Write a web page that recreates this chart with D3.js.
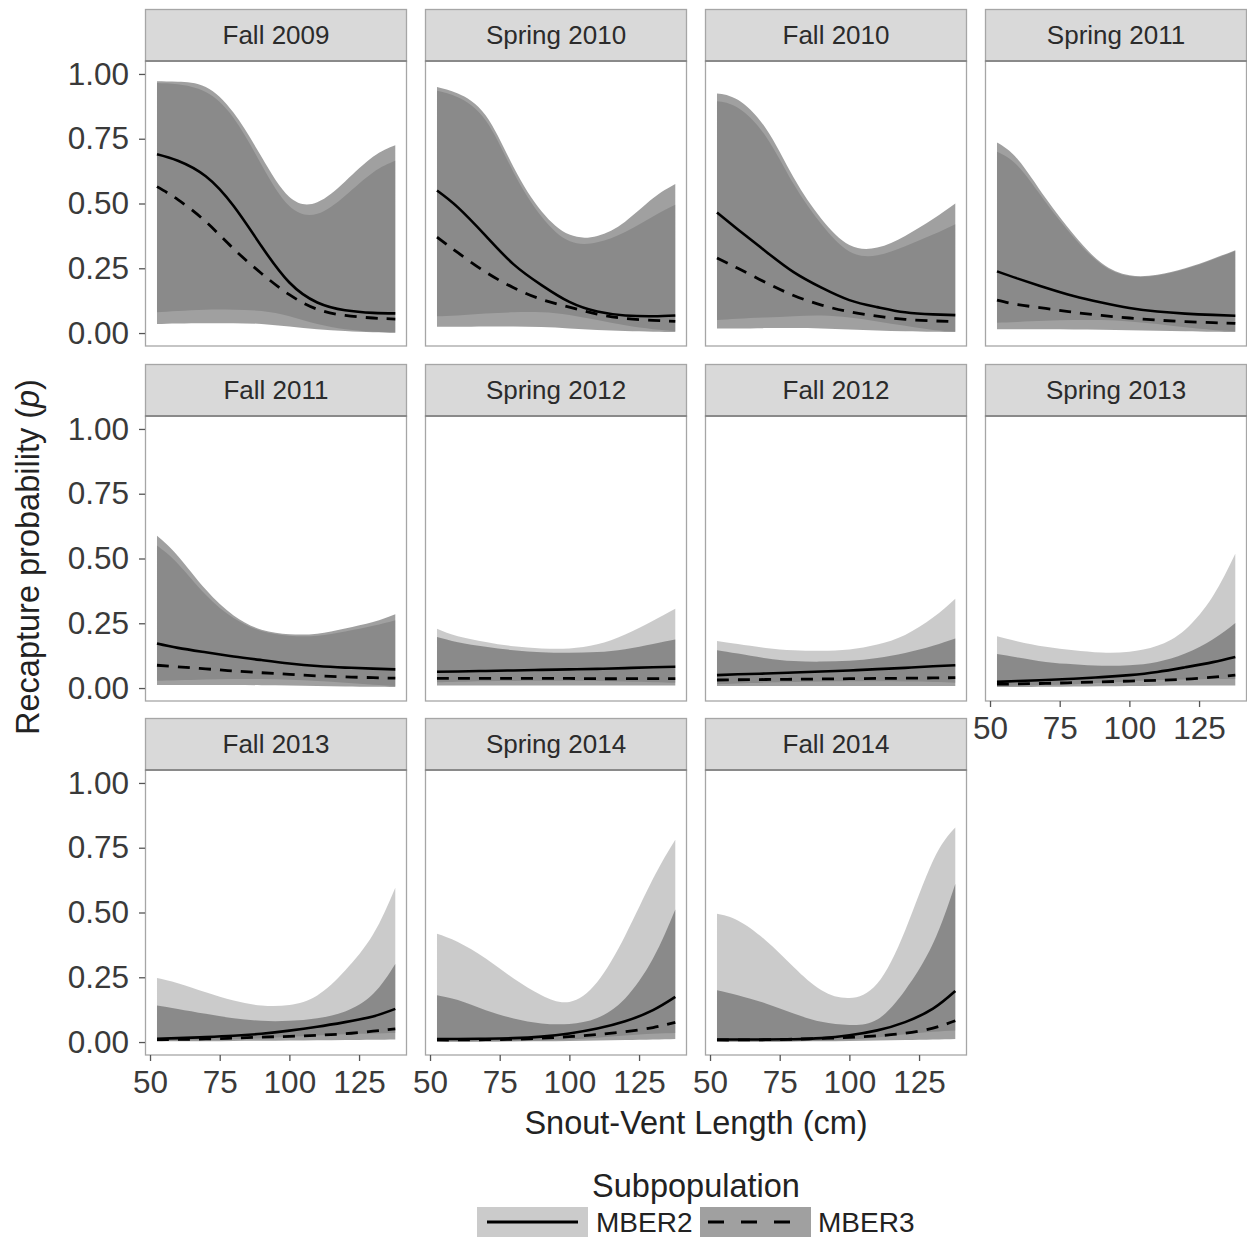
<!DOCTYPE html>
<html><head><meta charset="utf-8">
<script src="https://cdn.jsdelivr.net/npm/d3@7"></script>
<style>body{margin:0;background:#fff}svg{display:block}text{font-family:"Liberation Sans",Arial,sans-serif}</style>
</head><body>
<svg id="chart" width="1247" height="1237"></svg>
<script>
const seasons = ["Fall 2009","Spring 2010","Fall 2010","Spring 2011","Fall 2011","Spring 2012","Fall 2012","Spring 2013","Fall 2013","Spring 2014","Fall 2014"];
const svlGrid = [52.5, 60, 70, 80, 90, 100, 110, 120, 130, 138];
const xTicks = [50, 75, 100, 125];
const yTicks = [0, 0.25, 0.5, 0.75, 1];
const subpops = ["MBER2", "MBER3"];

const mber2Mean = [
 [0.69,0.665,0.605,0.49,0.335,0.195,0.118,0.088,0.078,0.076],
 [0.55,0.485,0.375,0.265,0.185,0.12,0.083,0.068,0.065,0.068],
 [0.465,0.40,0.315,0.235,0.175,0.127,0.10,0.08,0.072,0.069],
 [0.238,0.21,0.175,0.143,0.118,0.097,0.083,0.075,0.07,0.067],
 [0.172,0.155,0.138,0.122,0.108,0.095,0.085,0.079,0.075,0.072],
 [0.063,0.064,0.066,0.068,0.07,0.072,0.074,0.077,0.08,0.082],
 [0.05,0.053,0.056,0.06,0.064,0.068,0.073,0.078,0.084,0.088],
 [0.024,0.027,0.031,0.036,0.042,0.05,0.062,0.08,0.1,0.12],
 [0.013,0.015,0.019,0.024,0.032,0.044,0.059,0.077,0.099,0.128],
 [0.012,0.012,0.013,0.015,0.021,0.033,0.052,0.08,0.123,0.174],
 [0.01,0.01,0.01,0.011,0.015,0.026,0.045,0.077,0.129,0.197]
];
const mber3Mean = [
 [0.565,0.515,0.43,0.325,0.23,0.148,0.092,0.068,0.058,0.054],
 [0.37,0.31,0.235,0.175,0.13,0.10,0.073,0.056,0.049,0.045],
 [0.29,0.25,0.195,0.145,0.108,0.082,0.065,0.053,0.047,0.044],
 [0.127,0.11,0.095,0.08,0.068,0.058,0.05,0.044,0.04,0.037],
 [0.088,0.082,0.074,0.066,0.059,0.053,0.047,0.043,0.04,0.038],
 [0.037,0.037,0.037,0.037,0.037,0.037,0.036,0.036,0.036,0.036],
 [0.031,0.032,0.033,0.034,0.035,0.036,0.037,0.038,0.039,0.04],
 [0.015,0.016,0.018,0.021,0.024,0.027,0.03,0.034,0.042,0.05],
 [0.009,0.01,0.012,0.015,0.019,0.022,0.026,0.032,0.042,0.051],
 [0.008,0.008,0.009,0.011,0.015,0.021,0.029,0.04,0.056,0.076],
 [0.008,0.008,0.009,0.011,0.014,0.018,0.024,0.034,0.054,0.082]
];
const mber2Upper = [
 [0.965,0.96,0.93,0.83,0.65,0.49,0.46,0.53,0.62,0.665],
 [0.935,0.91,0.82,0.62,0.45,0.355,0.35,0.39,0.45,0.495],
 [0.895,0.87,0.76,0.575,0.42,0.315,0.30,0.335,0.38,0.42],
 [0.70,0.645,0.505,0.37,0.265,0.22,0.222,0.247,0.284,0.317],
 [0.55,0.48,0.36,0.27,0.22,0.202,0.202,0.218,0.24,0.262],
 [0.229,0.20,0.178,0.161,0.153,0.153,0.169,0.207,0.26,0.306],
 [0.182,0.17,0.155,0.146,0.144,0.149,0.168,0.205,0.272,0.345],
 [0.20,0.18,0.159,0.146,0.137,0.14,0.163,0.225,0.355,0.518],
 [0.247,0.227,0.192,0.16,0.141,0.143,0.18,0.276,0.415,0.596],
 [0.418,0.386,0.322,0.245,0.181,0.155,0.232,0.41,0.63,0.781],
 [0.495,0.469,0.392,0.29,0.20,0.17,0.226,0.431,0.70,0.828]
];
const mber3Upper = [
 [0.972,0.97,0.95,0.85,0.68,0.525,0.505,0.585,0.68,0.725],
 [0.95,0.925,0.84,0.64,0.47,0.38,0.375,0.43,0.52,0.575],
 [0.925,0.90,0.79,0.60,0.44,0.34,0.33,0.375,0.44,0.50],
 [0.735,0.67,0.52,0.38,0.27,0.223,0.225,0.25,0.287,0.32],
 [0.588,0.51,0.38,0.28,0.225,0.208,0.21,0.23,0.255,0.285],
 [0.197,0.177,0.159,0.146,0.138,0.136,0.139,0.15,0.17,0.187],
 [0.146,0.133,0.115,0.104,0.102,0.105,0.116,0.135,0.163,0.191],
 [0.131,0.118,0.101,0.092,0.086,0.088,0.101,0.133,0.188,0.251],
 [0.141,0.128,0.109,0.092,0.082,0.082,0.092,0.118,0.185,0.301],
 [0.181,0.162,0.123,0.091,0.072,0.07,0.093,0.168,0.322,0.512],
 [0.20,0.181,0.149,0.11,0.078,0.066,0.087,0.20,0.38,0.61]
];
const mber2Lower = [
 [0.08,0.085,0.09,0.09,0.085,0.065,0.035,0.015,0.005,0.002],
 [0.065,0.068,0.075,0.08,0.08,0.07,0.05,0.03,0.015,0.008],
 [0.05,0.055,0.06,0.065,0.068,0.06,0.045,0.028,0.012,0.006],
 [0.04,0.043,0.047,0.05,0.05,0.045,0.035,0.022,0.012,0.007],
 [0.028,0.03,0.033,0.035,0.035,0.032,0.027,0.02,0.013,0.008],
 [0.022,0.024,0.026,0.027,0.028,0.028,0.027,0.025,0.022,0.02],
 [0.015,0.018,0.021,0.023,0.025,0.026,0.026,0.025,0.023,0.02],
 [0.008,0.01,0.012,0.015,0.02,0.025,0.03,0.033,0.035,0.035],
 [0.005,0.006,0.008,0.011,0.015,0.02,0.025,0.03,0.033,0.035],
 [0.002,0.002,0.003,0.004,0.006,0.01,0.017,0.025,0.032,0.035],
 [0.002,0.002,0.002,0.003,0.005,0.01,0.018,0.03,0.04,0.045]
];
const mber3Lower = [
 [0.035,0.037,0.038,0.038,0.035,0.025,0.015,0.008,0.003,0.001],
 [0.024,0.024,0.025,0.025,0.023,0.018,0.012,0.008,0.005,0.004],
 [0.018,0.018,0.019,0.019,0.018,0.014,0.01,0.007,0.005,0.004],
 [0.015,0.015,0.015,0.014,0.013,0.011,0.009,0.007,0.005,0.004],
 [0.012,0.012,0.012,0.012,0.011,0.01,0.008,0.006,0.005,0.004],
 [0.01,0.01,0.01,0.01,0.01,0.01,0.01,0.01,0.01,0.01],
 [0.008,0.008,0.008,0.008,0.008,0.008,0.008,0.008,0.008,0.008],
 [0.004,0.004,0.005,0.006,0.007,0.008,0.009,0.01,0.01,0.01],
 [0.002,0.003,0.003,0.004,0.005,0.006,0.007,0.008,0.009,0.01],
 [0.001,0.001,0.001,0.002,0.003,0.004,0.006,0.008,0.01,0.012],
 [0.001,0.001,0.001,0.002,0.003,0.004,0.006,0.008,0.01,0.012]
];

// ---- layout ----
const colX = [145, 425, 705, 985];
const rowTop = [9, 364, 718];
const panelW = 262, stripH = 52, panelH = 285;
const fills = {MBER2: "rgba(165,165,165,0.58)", MBER3: "rgba(91,91,91,0.58)"};
const dash = "12,9";

const svg = d3.select("#chart");
const x = d3.scaleLinear().domain([48.2, 142.2]).range([0, panelW]);
const y = d3.scaleLinear().domain([-0.05, 1.05]).range([panelH, 0]);
const curve = d3.curveNatural;
const area = d3.area().x(d => x(d.x)).y0(d => y(d.lo)).y1(d => y(d.hi)).curve(curve);
const line = d3.line().x(d => x(d.x)).y(d => y(d.v)).curve(curve);

seasons.forEach((s, i) => {
  const c = i % 4, r = Math.floor(i / 4);
  const g = svg.append("g").attr("transform", `translate(${colX[c]},${rowTop[r]})`);
  g.append("rect").attr("x", 0.5).attr("y", 0.5).attr("width", panelW - 1).attr("height", stripH)
    .attr("fill", "#d9d9d9").attr("stroke", "#a6a6a6").attr("stroke-width", 1.3);
  g.append("text").attr("x", panelW / 2).attr("y", stripH / 2 + 9).attr("text-anchor", "middle")
    .attr("font-size", 26).attr("fill", "#2b2b2b").text(s);
  const p = g.append("g").attr("transform", `translate(0,${stripH})`);
  p.append("rect").attr("width", panelW).attr("height", panelH).attr("fill", "#fff");
  const rib2 = svlGrid.map((xv, k) => ({x: xv, lo: mber2Lower[i][k], hi: mber2Upper[i][k]}));
  const rib3 = svlGrid.map((xv, k) => ({x: xv, lo: mber3Lower[i][k], hi: mber3Upper[i][k]}));
  p.append("path").attr("d", area(rib2)).attr("fill", fills.MBER2);
  p.append("path").attr("d", area(rib3)).attr("fill", fills.MBER3);
  p.append("path").attr("d", line(svlGrid.map((xv, k) => ({x: xv, v: mber2Mean[i][k]}))))
    .attr("fill", "none").attr("stroke", "#000").attr("stroke-width", 2.6);
  p.append("path").attr("d", line(svlGrid.map((xv, k) => ({x: xv, v: mber3Mean[i][k]}))))
    .attr("fill", "none").attr("stroke", "#000").attr("stroke-width", 2.8).attr("stroke-dasharray", dash);
  p.append("rect").attr("x", 0.5).attr("y", 0).attr("width", panelW - 1).attr("height", panelH)
    .attr("fill", "none").attr("stroke", "#a6a6a6").attr("stroke-width", 1.3);
  p.append("line").attr("x1", 0).attr("x2", panelW).attr("y1", 0).attr("y2", 0).attr("stroke", "#8a8a8a").attr("stroke-width", 2);

  if (c === 0) {
    const ya = p.append("g").call(d3.axisLeft(y).tickValues(yTicks).tickFormat(d3.format(".2f")).tickSize(6).tickPadding(10));
    ya.select(".domain").remove();
    ya.selectAll("line").attr("stroke", "#555").attr("stroke-width", 1.3);
    ya.selectAll("text").attr("font-size", 31.5).attr("fill", "#3a3a3a").attr("font-family", "Liberation Sans, Arial, sans-serif");
  }
  const bottom = (r === 2) || (r === 1 && c === 3);
  if (bottom) {
    const xa = p.append("g").attr("transform", `translate(0,${panelH})`)
      .call(d3.axisBottom(x).tickValues(xTicks).tickSize(6).tickPadding(10));
    xa.select(".domain").remove();
    xa.selectAll("line").attr("stroke", "#555").attr("stroke-width", 1.3);
    xa.selectAll("text").attr("font-size", 31.5).attr("fill", "#3a3a3a").attr("font-family", "Liberation Sans, Arial, sans-serif");
  }
});

// axis titles
const yt = svg.append("text").attr("transform", "translate(39,557) rotate(-90)").attr("text-anchor", "middle")
  .attr("font-size", 32.5).attr("fill", "#222");
yt.append("tspan").text("Recapture probability (");
yt.append("tspan").attr("font-style", "italic").text("p");
yt.append("tspan").text(")");
svg.append("text").attr("x", 696).attr("y", 1134).attr("text-anchor", "middle").attr("font-size", 32.5)
  .attr("fill", "#222").text("Snout-Vent Length (cm)");

// legend
svg.append("text").attr("x", 696).attr("y", 1197).attr("text-anchor", "middle").attr("font-size", 32.5)
  .attr("fill", "#222").text("Subpopulation");
const keyX = [477, 700], labX = [596, 818];
subpops.forEach((sp, k) => {
  svg.append("rect").attr("x", keyX[k]).attr("y", 1207).attr("width", 111).attr("height", 34).attr("fill", fills[sp]);
  const ln = svg.append("line").attr("x1", keyX[k] + 10).attr("x2", keyX[k] + 101).attr("y1", 1222).attr("y2", 1222)
    .attr("stroke", "#000").attr("stroke-width", 3);
  if (k === 1) ln.attr("stroke-dasharray", "16,17").attr("x1", keyX[k] + 8).attr("x2", keyX[k] + 93);
  svg.append("text").attr("x", labX[k]).attr("y", 1232).attr("font-size", 28).attr("fill", "#222").text(sp);
});
</script>
</body></html>
